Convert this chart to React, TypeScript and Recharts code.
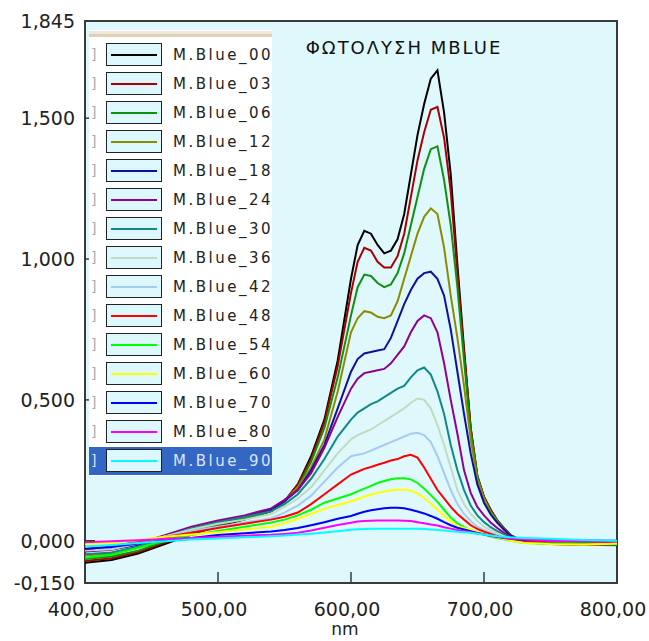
import { CartesianGrid, Line, LineChart, ReferenceArea, XAxis, YAxis } from "recharts";

const FONT = "DejaVu Sans";

const wavelengths = [
  400, 420, 440, 460, 480, 500, 520, 540, 550, 560, 570, 580, 590, 600, 605, 610, 615, 620, 625, 630, 635,
  640, 645, 650, 655, 660, 665, 670, 675, 680, 685, 690, 695, 700, 705, 710, 715, 720, 730, 750, 775, 800,
];

const blue00 = [-0.078, -0.068, -0.045, -0.012, 0.022, 0.052, 0.075, 0.105, 0.14, 0.2, 0.3, 0.43, 0.64, 0.93, 1.05, 1.1, 1.09, 1.05, 1.02, 1.03, 1.07, 1.16, 1.3, 1.44, 1.55, 1.64, 1.67, 1.52, 1.3, 0.98, 0.68, 0.4, 0.23, 0.155, 0.11, 0.072, 0.045, 0.02, -0.005, -0.01, -0.012, -0.015];
const blue03 = [-0.072, -0.062, -0.04, -0.006, 0.027, 0.056, 0.077, 0.105, 0.14, 0.2, 0.29, 0.42, 0.62, 0.88, 0.99, 1.04, 1.03, 0.99, 0.97, 0.97, 1.01, 1.09, 1.22, 1.35, 1.45, 1.53, 1.54, 1.43, 1.24, 0.95, 0.67, 0.4, 0.23, 0.155, 0.11, 0.072, 0.045, 0.02, -0.005, -0.012, -0.014, -0.016];
const blue06 = [-0.065, -0.056, -0.035, -0.002, 0.03, 0.058, 0.079, 0.105, 0.14, 0.19, 0.28, 0.4, 0.58, 0.8, 0.9, 0.945, 0.94, 0.915, 0.9, 0.91, 0.95, 1.02, 1.12, 1.22, 1.32, 1.39, 1.4, 1.28, 1.12, 0.9, 0.64, 0.39, 0.23, 0.15, 0.105, 0.07, 0.043, 0.02, -0.005, -0.01, -0.013, -0.015];
const blue12 = [-0.052, -0.045, -0.025, 0.006, 0.036, 0.062, 0.082, 0.108, 0.14, 0.19, 0.26, 0.36, 0.53, 0.74, 0.79, 0.815, 0.81, 0.795, 0.79, 0.8, 0.85, 0.93, 1.01, 1.09, 1.15, 1.18, 1.16, 1.04, 0.87, 0.72, 0.55, 0.36, 0.22, 0.15, 0.1, 0.068, 0.04, 0.018, -0.006, -0.012, -0.015, -0.012];
const blue18 = [-0.035, -0.03, -0.015, 0.012, 0.04, 0.066, 0.086, 0.11, 0.14, 0.18, 0.25, 0.34, 0.47, 0.6, 0.645, 0.665, 0.67, 0.675, 0.68, 0.72, 0.78, 0.84, 0.89, 0.93, 0.95, 0.955, 0.93, 0.87, 0.75, 0.6, 0.45, 0.31, 0.2, 0.135, 0.093, 0.064, 0.04, 0.018, -0.003, -0.008, -0.012, -0.01];
const blue24 = [-0.038, -0.032, -0.01, 0.02, 0.05, 0.072, 0.09, 0.115, 0.145, 0.18, 0.24, 0.33, 0.44, 0.54, 0.575, 0.595, 0.6, 0.605, 0.61, 0.63, 0.66, 0.69, 0.74, 0.78, 0.8, 0.79, 0.74, 0.63, 0.5, 0.38, 0.25, 0.17, 0.12, 0.09, 0.065, 0.045, 0.028, 0.014, -0.005, -0.01, -0.014, -0.012];
const blue30 = [-0.048, -0.042, -0.02, 0.014, 0.044, 0.066, 0.084, 0.105, 0.13, 0.165, 0.22, 0.29, 0.37, 0.43, 0.455, 0.47, 0.485, 0.495, 0.51, 0.525, 0.54, 0.55, 0.58, 0.605, 0.615, 0.59, 0.53, 0.45, 0.34, 0.25, 0.18, 0.125, 0.09, 0.066, 0.048, 0.034, 0.022, 0.01, -0.003, -0.01, -0.012, -0.012];
const blue36 = [-0.035, -0.03, -0.01, 0.015, 0.04, 0.06, 0.075, 0.095, 0.12, 0.15, 0.19, 0.25, 0.31, 0.36, 0.375, 0.385, 0.395, 0.41, 0.425, 0.44, 0.455, 0.47, 0.49, 0.505, 0.5, 0.47, 0.41, 0.34, 0.26, 0.18, 0.13, 0.095, 0.07, 0.05, 0.038, 0.026, 0.016, 0.008, -0.003, -0.008, -0.01, -0.01];
const blue42 = [-0.03, -0.022, -0.005, 0.015, 0.035, 0.05, 0.065, 0.08, 0.1, 0.125, 0.16, 0.21, 0.26, 0.3, 0.305, 0.31, 0.32, 0.33, 0.34, 0.35, 0.36, 0.37, 0.38, 0.383, 0.375, 0.35, 0.3, 0.24, 0.18, 0.13, 0.095, 0.07, 0.05, 0.038, 0.028, 0.02, 0.012, 0.006, -0.002, -0.006, -0.008, -0.008];
const blue48 = [-0.03, -0.02, -0.003, 0.013, 0.028, 0.045, 0.06, 0.075, 0.085, 0.1, 0.13, 0.165, 0.2, 0.235, 0.245, 0.255, 0.262, 0.27, 0.277, 0.285, 0.29, 0.3, 0.305, 0.295, 0.26, 0.22, 0.18, 0.15, 0.12, 0.095, 0.075, 0.055, 0.042, 0.032, 0.024, 0.016, 0.01, 0.005, -0.002, -0.005, -0.008, -0.008];
const blue54 = [-0.06, -0.05, -0.025, 0.0, 0.02, 0.035, 0.05, 0.065, 0.075, 0.09, 0.11, 0.135, 0.15, 0.165, 0.175, 0.185, 0.195, 0.205, 0.212, 0.218, 0.222, 0.222, 0.218, 0.205, 0.185, 0.162, 0.138, 0.11, 0.082, 0.062, 0.048, 0.038, 0.03, 0.022, 0.015, 0.01, 0.005, 0.0, -0.008, -0.01, -0.01, -0.012];
const blue60 = [-0.012, -0.008, 0.002, 0.014, 0.022, 0.03, 0.04, 0.05, 0.062, 0.078, 0.095, 0.113, 0.127, 0.14, 0.148, 0.156, 0.164, 0.17, 0.175, 0.179, 0.181, 0.181, 0.178, 0.168, 0.152, 0.132, 0.11, 0.088, 0.068, 0.052, 0.045, 0.04, 0.032, 0.025, 0.018, 0.012, 0.006, 0.0, -0.008, -0.012, -0.014, -0.01];
const blue70 = [-0.028, -0.022, -0.01, 0.0, 0.01, 0.02, 0.027, 0.033, 0.038, 0.045, 0.055, 0.066, 0.078, 0.088, 0.096, 0.103, 0.108, 0.112, 0.115, 0.117, 0.117, 0.115, 0.11, 0.104, 0.097, 0.088, 0.078, 0.066, 0.055, 0.046, 0.04, 0.034, 0.028, 0.023, 0.018, 0.014, 0.01, 0.007, 0.003, 0.002, 0.001, 0.0];
const blue80 = [-0.005, -0.002, 0.002, 0.006, 0.01, 0.014, 0.018, 0.021, 0.024, 0.028, 0.036, 0.046, 0.056, 0.064, 0.068, 0.07, 0.071, 0.072, 0.072, 0.072, 0.072, 0.071, 0.07, 0.066, 0.062, 0.058, 0.054, 0.048, 0.043, 0.038, 0.034, 0.03, 0.026, 0.022, 0.018, 0.014, 0.011, 0.008, 0.004, 0.0, -0.002, -0.003];
const blue90 = [-0.02, -0.015, -0.008, -0.002, 0.004, 0.008, 0.012, 0.016, 0.019, 0.022, 0.025, 0.029, 0.034, 0.039, 0.041, 0.042, 0.043, 0.043, 0.043, 0.043, 0.043, 0.043, 0.043, 0.043, 0.042, 0.04, 0.038, 0.036, 0.034, 0.032, 0.03, 0.028, 0.025, 0.022, 0.019, 0.016, 0.014, 0.012, 0.01, 0.007, 0.003, 0.0];

const seriesNames = [
  "M.Blue_00", "M.Blue_03", "M.Blue_06", "M.Blue_12", "M.Blue_18", "M.Blue_24", "M.Blue_30", "M.Blue_36",
  "M.Blue_42", "M.Blue_48", "M.Blue_54", "M.Blue_60", "M.Blue_70", "M.Blue_80", "M.Blue_90",
];
const seriesColors = [
  "#000000", "#a80000", "#109010", "#8c8c00", "#10109a", "#900090", "#108888", "#c0dcc0",
  "#a6caf0", "#ff0000", "#00ff00", "#ffff00", "#0000ff", "#ff00ff", "#00ffff",
];
const seriesValues = [blue00, blue03, blue06, blue12, blue18, blue24, blue30, blue36, blue42, blue48, blue54, blue60, blue70, blue80, blue90];

const xTicks = [400, 500, 600, 700, 800];
const topTicks = [500, 600, 700];
const yTicks = [-0.15, 0, 0.5, 1, 1.5, 1.845];

const chartData = wavelengths.map((nm, i) => {
  const row: Record<string, number> = { nm };
  seriesValues.forEach((vals, s) => {
    row[`s${s}`] = vals[i];
  });
  return row;
});

const FRAME = "#3a3a3a";

function BottomTick({ x, y, payload }: any) {
  const v = payload.value;
  return (
    <g>
      {v > 400 && v < 800 && <line x1={x} y1={y} x2={x} y2={y - 11} stroke={FRAME} strokeWidth={1.5} />}
      <text x={x - 4} y={y + 33} textAnchor="middle" fontSize={19} fontFamily={FONT} fill="#222">
        {v.toFixed(2).replace(".", ",")}
      </text>
    </g>
  );
}

function TopTick({ x, y }: any) {
  return <line x1={x} y1={y} x2={x} y2={y + 10} stroke={FRAME} strokeWidth={1.5} />;
}

function LeftTick({ x, y, payload }: any) {
  const v = payload.value;
  return (
    <g>
      {v > -0.15 && v < 1.845 && <line x1={x} y1={y} x2={x + 10} y2={y} stroke={FRAME} strokeWidth={1.5} />}
      <text x={x - 10} y={y + 7} textAnchor="end" fontSize={19} fontFamily={FONT} fill="#222">
        {v.toFixed(3).replace(".", ",")}
      </text>
    </g>
  );
}

function NmLabel(props: any) {
  const vb = props.viewBox;
  return (
    <text x={vb.x + vb.width / 2 - 6} y={vb.y + vb.height - 6} textAnchor="middle" fontSize={17} fontFamily={FONT} fill="#222">
      nm
    </text>
  );
}

function SeriesLegend() {
  return (
    <div
      style={{
        position: "absolute",
        left: 89,
        top: 30,
        width: 183,
        height: 446,
        background: "#ffffff",
        overflow: "hidden",
        fontFamily: FONT,
      }}
    >
      <div style={{ position: "absolute", left: 0, top: 1, width: 183, height: 3, background: "#efe7d9" }} />
      <div style={{ position: "absolute", left: 0, top: 4, width: 183, height: 3, background: "#ddd1ba" }} />
      {seriesNames.map((name, i) => {
        const selected = i === seriesNames.length - 1;
        return (
          <div
            key={name}
            style={{
              position: "absolute",
              left: 0,
              top: 11 + i * 29,
              width: 183,
              height: 28,
              background: selected ? "#3466c4" : "transparent",
            }}
          >
            <span style={{ position: "absolute", left: 2, top: 5, fontSize: 14, color: selected ? "#dde" : "#aaa" }}>]</span>
            <div
              style={{
                position: "absolute",
                left: 17,
                top: 2,
                width: 56,
                height: 23,
                boxSizing: "border-box",
                border: "1.5px solid #222",
                background: "#dcf8fc",
              }}
            >
              <div style={{ position: "absolute", left: 4, right: 4, top: 9.5, height: 2, background: seriesColors[i] }} />
            </div>
            <span
              style={{
                position: "absolute",
                left: 84,
                top: 4,
                fontSize: 15,
                lineHeight: "20px",
                letterSpacing: 2.5,
                whiteSpace: "nowrap",
                color: selected ? "#d8e6ff" : "#222",
              }}
            >
              {name}
            </span>
          </div>
        );
      })}
    </div>
  );
}

export default function App() {
  return (
    <div style={{ position: "absolute", left: 0, top: 0, width: 649, height: 641, background: "#fff", overflow: "hidden" }}>
      <LineChart width={649} height={641} data={chartData} margin={{ top: 21, right: 32, left: 0, bottom: 0 }}>
        <CartesianGrid horizontal={false} vertical={false} fill="#dff8fc" />
        <XAxis
          dataKey="nm"
          type="number"
          domain={[400, 800]}
          ticks={xTicks}
          interval={0}
          height={58}
          axisLine={false}
          tickLine={false}
          tickSize={0}
          tickMargin={0}
          tick={<BottomTick />}
          label={<NmLabel />}
        />
        <XAxis
          xAxisId="top"
          orientation="top"
          dataKey="nm"
          type="number"
          domain={[400, 800]}
          ticks={topTicks}
          interval={0}
          height={0}
          axisLine={false}
          tickLine={false}
          tickSize={0}
          tickMargin={0}
          tick={<TopTick />}
        />
        <YAxis
          type="number"
          domain={[-0.15, 1.845]}
          ticks={yTicks}
          interval={0}
          width={85}
          axisLine={false}
          tickLine={false}
          tickSize={0}
          tickMargin={0}
          tick={<LeftTick />}
        />
        {seriesValues.map((_, i) => (
          <Line
            key={seriesNames[i]}
            type="linear"
            dataKey={`s${i}`}
            name={seriesNames[i]}
            stroke={seriesColors[i]}
            strokeWidth={2}
            dot={false}
            activeDot={false}
            isAnimationActive={false}
          />
        ))}
        <ReferenceArea x1={400} x2={800} y1={-0.15} y2={1.845} fill="none" stroke={FRAME} strokeWidth={2} ifOverflow="visible" />
      </LineChart>
      <div
        style={{
          position: "absolute",
          left: 254,
          top: 36,
          width: 300,
          textAlign: "center",
          fontFamily: FONT,
          fontSize: 18,
          lineHeight: "24px",
          letterSpacing: 2,
          color: "#111",
        }}
      >
        ΦΩΤΟΛΥΣΗ MBLUE
      </div>
      <SeriesLegend />
    </div>
  );
}
